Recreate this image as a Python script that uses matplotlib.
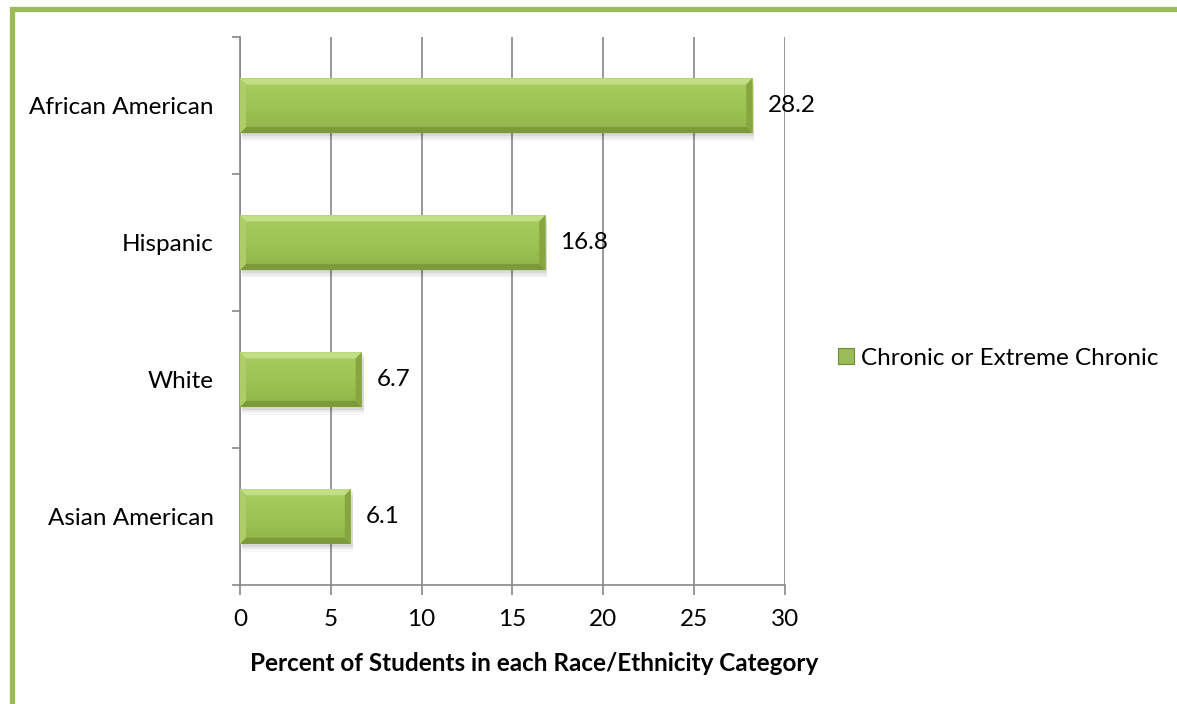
import matplotlib.pyplot as plt
from matplotlib.patches import Rectangle, Polygon
from matplotlib.colors import LinearSegmentedColormap
import numpy as np

plt.rcParams['font.family'] = ['Lato', 'DejaVu Sans']

# data
categories = ["Asian American", "White", "Hispanic", "African American"]
values = [6.1, 6.7, 16.8, 28.2]
series_name = "Chronic or Extreme Chronic"
x_ticks = [0, 5, 10, 15, 20, 25, 30]

green = "#9BBB59"
grid_grey = "#878787"
fs = 17.5

# face shading of the bars, darker at the bottom
face_cmap = LinearSegmentedColormap.from_list("face", ["#90b349", "#9fc453", "#a8cc5e"])

fig = plt.figure(figsize=(11.77, 7.04), dpi=100)
ax = fig.add_axes([0.2039, 0.169, 0.4630, 0.778])

ypos = np.arange(len(categories))
bar_h = 0.4
bx, by = 0.33, 0.045  # bevel size in data units

# soft drop shadow under each bar
for y, v in zip(ypos, values):
    for k, a in enumerate([0.08, 0.05, 0.03]):
        d = 0.02 * (k + 1)
        ax.add_patch(Rectangle((0.1, y - bar_h / 2 - d), v, bar_h,
                               facecolor="#000000", alpha=a, lw=0, zorder=2))

bars = ax.barh(ypos, values, height=bar_h, color=green, zorder=3, lw=0)

grad = np.linspace(0, 1, 256).reshape(-1, 1)
for b in bars:
    x0, y0 = b.get_x(), b.get_y()
    w, h = b.get_width(), b.get_height()
    x1, y1 = x0 + w, y0 + h
    im = ax.imshow(grad, cmap=face_cmap, aspect="auto", origin="lower",
                   extent=[x0, x1, y0, y1], zorder=4)
    im.set_clip_path(b)
    # chamfered bevel edges
    edges = [
        ([(x0, y1), (x1, y1), (x1 - bx, y1 - by), (x0 + bx, y1 - by)], "#c2de86"),
        ([(x0, y0), (x1, y0), (x1 - bx, y0 + by), (x0 + bx, y0 + by)], "#7c9a3a"),
        ([(x0, y0), (x0, y1), (x0 + bx, y1 - by), (x0 + bx, y0 + by)], "#aecd6a"),
        ([(x1, y0), (x1, y1), (x1 - bx, y1 - by), (x1 - bx, y0 + by)], "#87a642"),
    ]
    for pts, c in edges:
        ax.add_patch(Polygon(pts, closed=True, facecolor=c, lw=0, zorder=5))

for y, v in zip(ypos, values):
    ax.annotate(f"{v:.1f}", (v, y), xytext=(11, 0), textcoords="offset points",
                va="center", ha="left", fontsize=fs, color="black", zorder=6)

ax.set_xlim(0, 30)
ax.set_ylim(-0.5, len(categories) - 0.5)
ax.set_xticks(x_ticks)
ax.set_xticklabels([str(t) for t in x_ticks], fontsize=fs)
ax.set_yticks(ypos)
ax.set_yticklabels(categories, fontsize=fs)
ax.set_yticks(np.arange(-0.5, len(categories), 1), minor=True)
ax.tick_params(axis="y", which="major", length=0, pad=19)
ax.tick_params(axis="y", which="minor", length=6, width=1.2, color=grid_grey)
ax.tick_params(axis="x", length=7, width=1.2, color=grid_grey, pad=10)

ax.xaxis.grid(True, color=grid_grey, lw=1.2, zorder=1)
ax.set_axisbelow(True)
for side in ["top", "right"]:
    ax.spines[side].set_visible(False)
for side in ["left", "bottom"]:
    ax.spines[side].set_color(grid_grey)
    ax.spines[side].set_linewidth(1.2)

ax.set_xlabel("Percent of Students in each Race/Ethnicity Category",
              fontsize=fs, fontweight="bold")
ax.xaxis.set_label_coords(0.54, -0.123)

legend_handle = Rectangle((0, 0), 1, 1, facecolor=green, edgecolor="#6f8a35", lw=0.8)
fig.legend([legend_handle], [series_name], loc="center left",
           bbox_to_anchor=(0.712, 0.491), frameon=False, fontsize=fs,
           handlelength=0.65, handleheight=0.65, handletextpad=0.3,
           borderpad=0, borderaxespad=0)

# green frame around the chart area
fig.patches.append(Rectangle((11.5 / 1177, -0.05), 1.1, 1 - 8.5 / 704 + 0.05,
                             transform=fig.transFigure, fill=False,
                             edgecolor=green, lw=3.8, zorder=0))

fig.savefig("out.png", dpi=100)
